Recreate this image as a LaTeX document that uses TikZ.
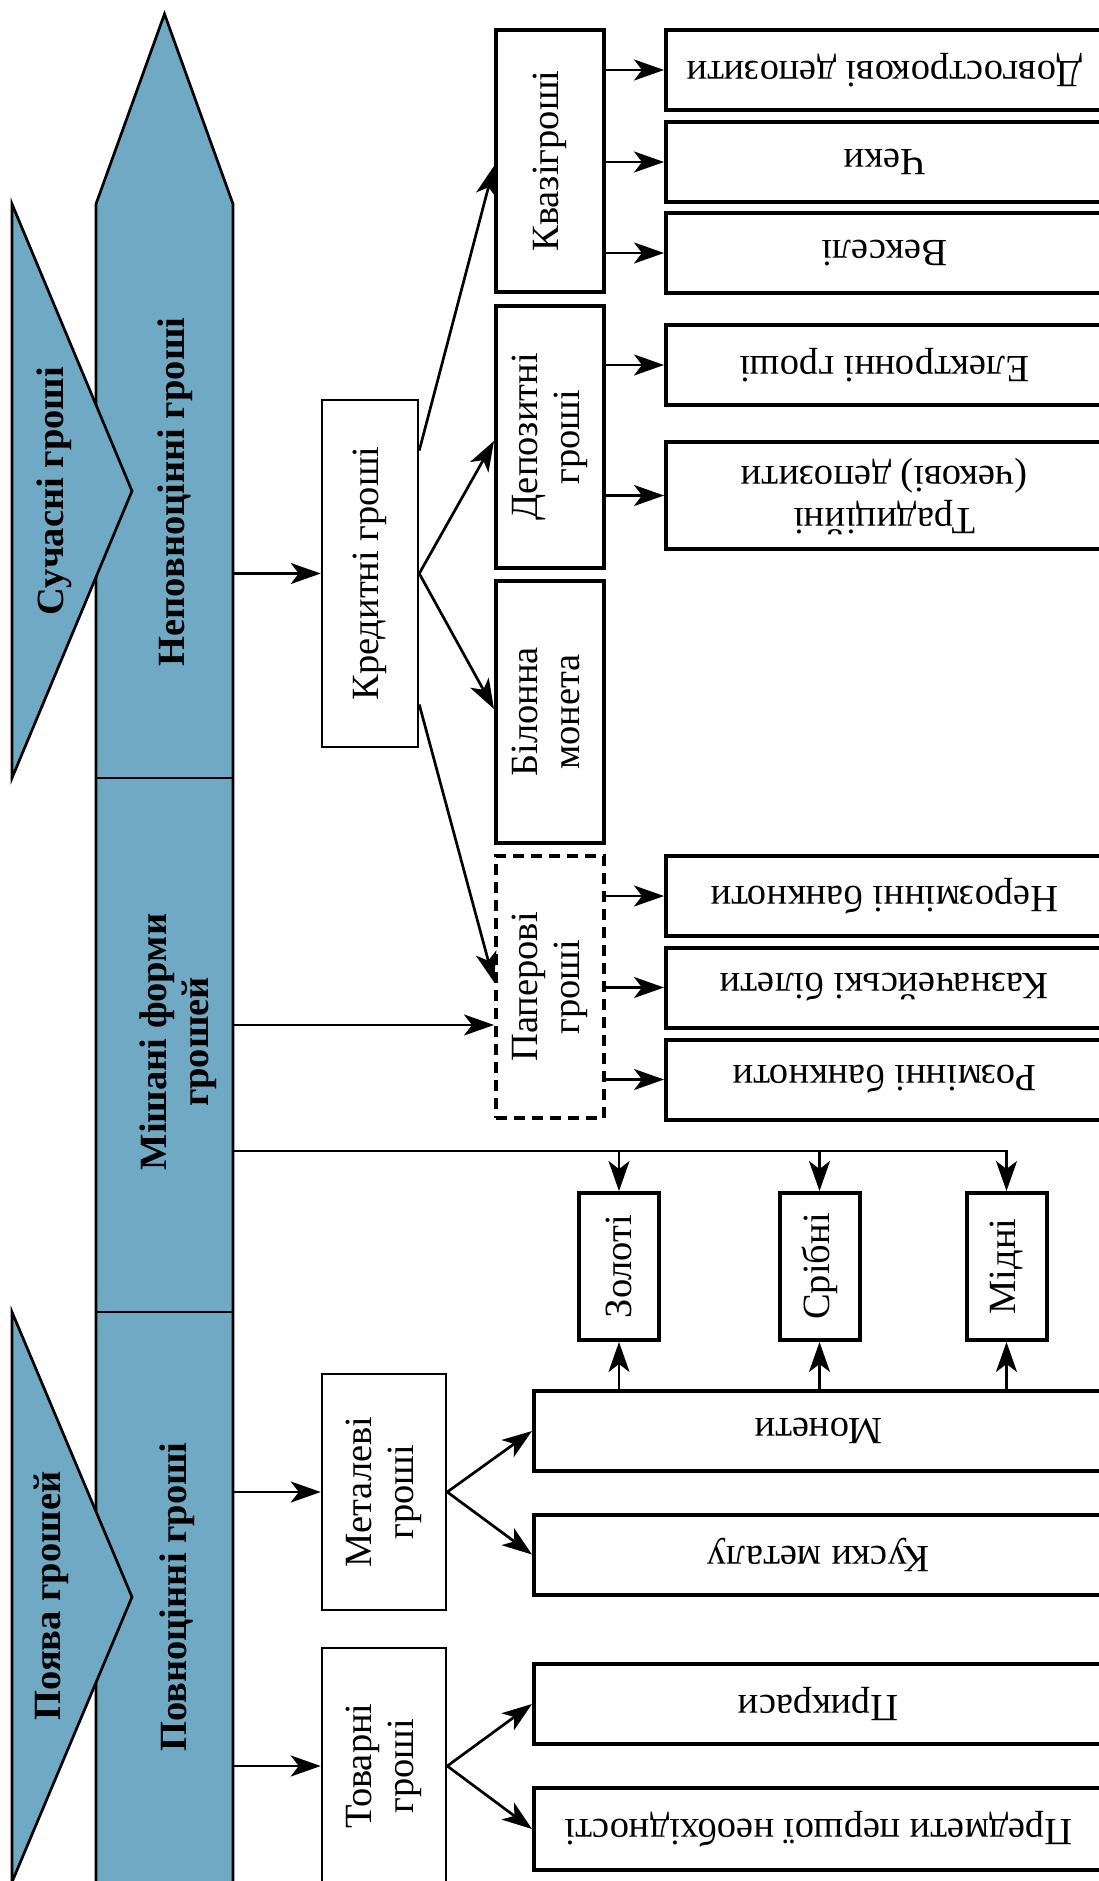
\documentclass[tikz,border=0pt]{standalone}
\usepackage{fontspec}
\setmainfont{Liberation Serif}
\usepackage{graphicx}
\usetikzlibrary{arrows.meta}
\definecolor{blu}{RGB}{112,169,196}
\tikzset{
  txt/.style={font=\fontsize{38.5}{42}\selectfont, inner sep=0pt, align=center},
  boldtxt/.style={font=\fontsize{38.5}{42}\selectfont\bfseries, inner sep=0pt},
  thinbox/.style={txt, draw, line width=2.5pt, fill=white},
  thickbox/.style={txt, draw, line width=4pt, fill=white},
  dashbox/.style={thickbox, dash pattern=on 11pt off 7pt},
  midbox/.style={thickbox, minimum width=108pt, minimum height=262pt},
  leaf/.style={thickbox, minimum width=437pt, minimum height=80pt},
  coin/.style={thickbox, minimum width=80pt, minimum height=147pt},
  wide/.style={thickbox, minimum width=569pt, minimum height=80pt},
  seg/.style={inner sep=0pt, minimum width=137pt},
  arr/.style={line width=2.7pt, -{Stealth[length=30pt,width=21pt,inset=8pt]}},
  ln/.style={line width=2.7pt},
  arrowshape/.style={fill=blu, draw=black, line width=2.7pt, line join=miter},
}
\newcommand{\twol}[2]{\begin{tabular}{@{}c@{}}#1\\#2\end{tabular}}
\begin{document}
\begin{tikzpicture}[x=1pt,y=-1pt]
\useasboundingbox (0,0) rectangle (1099,1881);
\clip (0,0) rectangle (1099,1881);
\fill[white] (0,0) rectangle (1099,1881);
% big arrow
\draw[arrowshape] (96,1900) -- (96,204) -- (164.5,14) -- (233,204) -- (233,1900) -- cycle;
\draw[ln] (96,778) -- (233,778);
\draw[ln] (96,1312) -- (233,1312);
% triangles
\draw[arrowshape] (12,204) -- (132,491) -- (12,778) -- cycle;
\draw[arrowshape] (12,1312) -- (132,1597) -- (12,1882) -- cycle;
% segment anchors
\node[seg, minimum height=574pt] (nepov) at (164.5,491) {};
\node[seg, minimum height=534pt] (mish) at (164.5,1045) {};
\node[seg, minimum height=569pt] (povn) at (164.5,1596.5) {};
% titles
\node[boldtxt] (tsuch) at (54.5,491) {\rotatebox{90}{Сучасні гроші}};
\node[boldtxt] (tpoyava) at (51.5,1596) {\rotatebox{90}{Поява грошей}};
\node[boldtxt] (tnepov) at (175.5,492) {\rotatebox{90}{Неповноцінні гроші}};
\node[boldtxt] (tmish) at (179,1042) {\rotatebox{90}{\twol{Мішані форми}{грошей}}};
\node[boldtxt] (tpovn) at (177.5,1597) {\rotatebox{90}{Повноцінні гроші}};
% second level
\node[thinbox, minimum width=96pt, minimum height=347pt] (kred) at (370,573.5) {\rotatebox{90}{Кредитні гроші}};
\node[thinbox, minimum width=124pt, minimum height=236pt] (metal) at (384,1492) {\rotatebox{90}{\twol{Металеві}{гроші}}};
\node[thinbox, minimum width=124pt, minimum height=236pt] (tovar) at (384,1766) {\rotatebox{90}{\twol{Товарні}{гроші}}};
% third level
\node[midbox] (kvazi) at (550,161) {\rotatebox{90}{Квазігроші}};
\node[midbox] (depoz) at (550,437) {\rotatebox{90}{\twol{Депозитні}{гроші}}};
\node[midbox] (bilon) at (550,712) {\rotatebox{90}{\twol{Білонна}{монета}}};
\node[midbox, dashbox] (papir) at (550,987) {\rotatebox{90}{\twol{Паперові}{гроші}}};
% leaves
\node[leaf] (dovh) at (884.5,70) {\rotatebox{180}{Довгострокові депозити}};
\node[leaf] (cheky) at (884.5,162) {\rotatebox{180}{Чеки}};
\node[leaf] (veksel) at (884.5,253) {\rotatebox{180}{Векселі}};
\node[leaf] (elektr) at (884.5,365) {\rotatebox{180}{Електронні гроші}};
\node[leaf, minimum height=107pt] (tradyc) at (884.5,495.5) {\rotatebox{180}{\twol{Традиційні}{(чекові) депозити}}};
\node[leaf] (nerozm) at (884.5,896) {\rotatebox{180}{Нерозмінні банкноти}};
\node[leaf] (kazn) at (884.5,987.5) {\rotatebox{180}{Казначейські білети}};
\node[leaf] (rozm) at (884.5,1079.5) {\rotatebox{180}{Розмінні банкноти}};
% coins
\node[coin] (zoloti) at (619,1266.5) {\rotatebox{90}{Золоті}};
\node[coin] (sribni) at (819.5,1266.5) {\rotatebox{90}{Срібні}};
\node[coin] (midni) at (1006.5,1266.5) {\rotatebox{90}{Мідні}};
\node[wide] (moneti) at (818.5,1431) {\rotatebox{180}{Монети}};
\node[wide] (kusky) at (818.5,1554.5) {\rotatebox{180}{Куски металу}};
\node[wide] (prykr) at (818.5,1704) {\rotatebox{180}{Прикраси}};
\node[wide, minimum height=82pt] (predm) at (818.5,1829) {\rotatebox{180}{Предмети першої необхідності}};
% connectors
\draw[arr] (nepov.east |- kred.west) -- (kred.west);
\draw[arr] ([yshift=123pt]kred.east) -- ([yshift=-5pt]kvazi.west);
\draw[arr] (kred.east) -- ([yshift=-4pt]depoz.west);
\draw[arr] (kred.east) -- ([yshift=3pt]bilon.west);
\draw[arr] ([yshift=-131pt]kred.east) -- ([yshift=5pt]papir.west);
\coordinate (papin) at ([yshift=-38pt]papir.west);
\draw[arr] (mish.east |- papin) -- (papin);
\foreach \t in {dovh,cheky,veksel} \draw[arr] (kvazi.east |- \t.west) -- (\t.west);
\foreach \t in {elektr,tradyc} \draw[arr] (depoz.east |- \t.west) -- (\t.west);
\foreach \t in {nerozm,kazn,rozm} \draw[arr] (papir.east |- \t.west) -- (\t.west);
\coordinate (mline) at ([yshift=-106pt]mish.east);
\draw[arr] (mline) -| (midni.north);
\draw[arr] (zoloti.north |- mline) -- (zoloti.north);
\draw[arr] (sribni.north |- mline) -- (sribni.north);
\foreach \t in {zoloti,sribni,midni} \draw[arr] (\t.south |- moneti.north) -- (\t.south);
\draw[arr] (povn.east |- metal.west) -- (metal.west);
\draw[arr] (povn.east |- tovar.west) -- (tovar.west);
\draw[arr] (metal.east) -- (moneti.west);
\draw[arr] (metal.east) -- (kusky.west);
\draw[arr] (tovar.east) -- (prykr.west);
\draw[arr] (tovar.east) -- (predm.west);
\end{tikzpicture}
\end{document}
